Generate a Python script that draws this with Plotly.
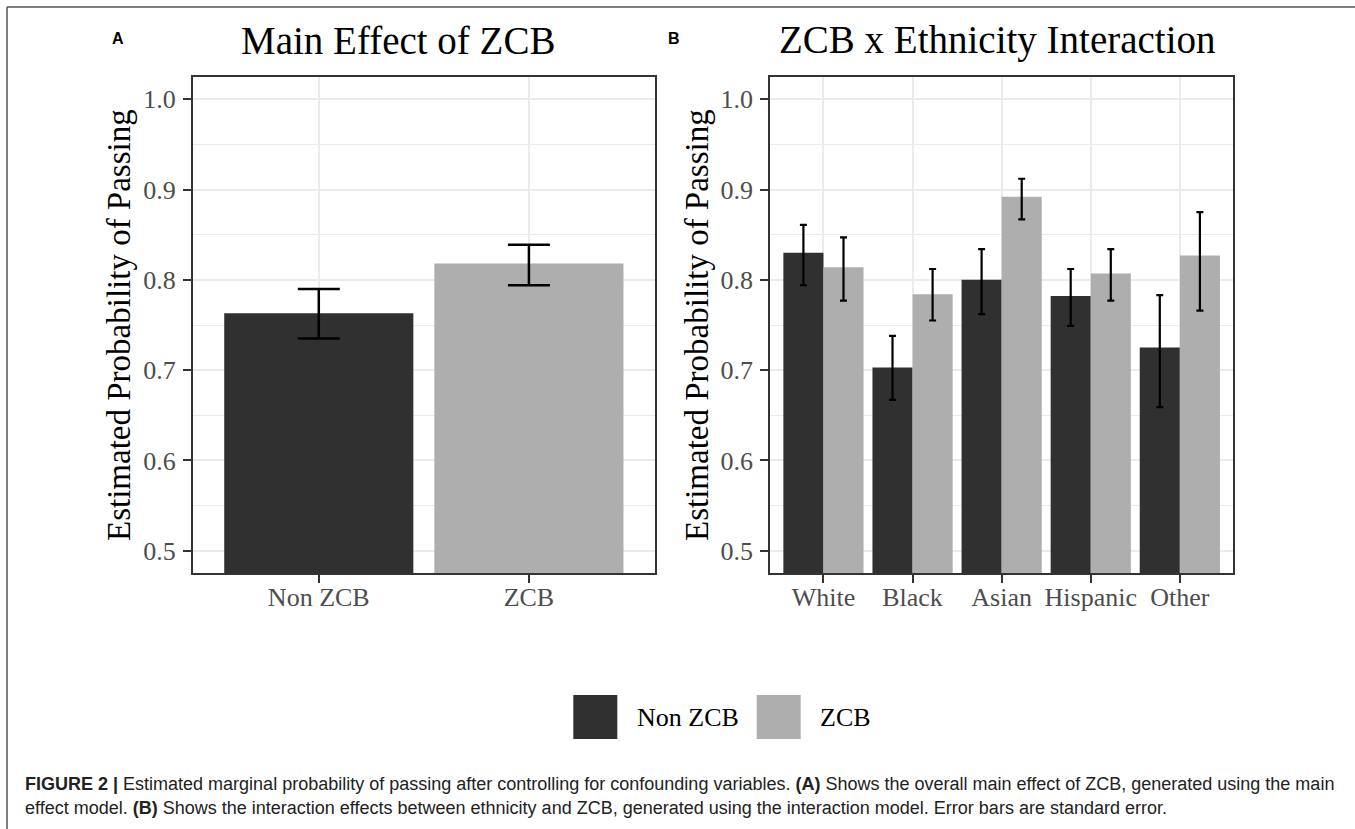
import plotly.graph_objects as go

# ---------------- data ----------------
main_categories = ["Non ZCB", "ZCB"]
main_values = [0.763, 0.818]
main_upper = [0.790, 0.839]
main_lower = [0.735, 0.794]

ethnicities = ["White", "Black", "Asian", "Hispanic", "Other"]
non_zcb_values = [0.830, 0.703, 0.800, 0.782, 0.725]
non_zcb_upper = [0.861, 0.738, 0.834, 0.812, 0.783]
non_zcb_lower = [0.794, 0.667, 0.762, 0.749, 0.659]
zcb_values = [0.814, 0.784, 0.892, 0.807, 0.827]
zcb_upper = [0.847, 0.812, 0.912, 0.834, 0.875]
zcb_lower = [0.777, 0.755, 0.867, 0.777, 0.766]

series_names = ["Non ZCB", "ZCB"]
y_ticks = [0.5, 0.6, 0.7, 0.8, 0.9, 1.0]

# ---------------- style ----------------
W, H = 1355, 829
DARK = "#303030"
LIGHT = "#aeaeae"
SERIF = "Liberation Serif, Times New Roman, serif"
SANS = "Liberation Sans, Arial, sans-serif"


def px(x):
    return x / W


def py(y):
    return 1 - y / H


def errs(vals, up, lo):
    return ([u - v for u, v in zip(up, vals)], [v - l for v, l in zip(vals, lo)])


fig = go.Figure()

ea_p, ea_m = errs(main_values, main_upper, main_lower)
fig.add_trace(go.Bar(
    x=main_categories, y=main_values, width=0.9,
    marker=dict(color=[DARK, LIGHT], line=dict(width=0)),
    error_y=dict(type="data", array=ea_p, arrayminus=ea_m, color="black",
                 thickness=2.5, width=21),
    xaxis="x", yaxis="y", showlegend=False,
))

en_p, en_m = errs(non_zcb_values, non_zcb_upper, non_zcb_lower)
fig.add_trace(go.Bar(
    x=ethnicities, y=non_zcb_values, name=series_names[0],
    marker=dict(color=DARK, line=dict(width=0)),
    error_y=dict(type="data", array=en_p, arrayminus=en_m, color="black",
                 thickness=2.2, width=3.5),
    xaxis="x2", yaxis="y2", showlegend=False,
))
ez_p, ez_m = errs(zcb_values, zcb_upper, zcb_lower)
fig.add_trace(go.Bar(
    x=ethnicities, y=zcb_values, name=series_names[1],
    marker=dict(color=LIGHT, line=dict(width=0)),
    error_y=dict(type="data", array=ez_p, arrayminus=ez_m, color="black",
                 thickness=2.2, width=3.5),
    xaxis="x2", yaxis="y2", showlegend=False,
))

top, bottom = 76.7, 573.3
ydom = [py(bottom), py(top)]

common_x = dict(
    type="category", showgrid=True, gridcolor="#EBEBEB", gridwidth=2,
    showline=True, linecolor="#333333", linewidth=1.5, mirror=True,
    ticks="outside", ticklen=8, tickwidth=2, tickcolor="#333333",
    tickfont=dict(family=SERIF, size=26, color="#4d4d4d"),
    ticklabelstandoff=-8, zeroline=False, fixedrange=True,
)
common_y = dict(
    range=[0.475, 1.025], tickvals=y_ticks, tickformat=".1f",
    showgrid=True, gridcolor="#EBEBEB", gridwidth=2,
    minor=dict(dtick=0.05, tick0=0.5, showgrid=True, gridcolor="#EBEBEB", gridwidth=1),
    showline=True, linecolor="#333333", linewidth=1.5, mirror=True,
    ticks="outside", ticklen=8, tickwidth=2, tickcolor="#333333",
    tickfont=dict(family=SERIF, size=26, color="#4d4d4d"),
    ticklabelstandoff=2, zeroline=False, fixedrange=True,
)

fig.update_layout(
    width=W, height=H, autosize=False,
    margin=dict(l=0, r=0, t=0, b=0),
    paper_bgcolor="white", plot_bgcolor="white",
    barmode="group", bargap=0.1, bargroupgap=0,
    xaxis=dict(domain=[px(192.7), px(655)], range=[-0.6, 1.6], anchor="y", **common_x),
    yaxis=dict(domain=ydom, anchor="x", **common_y),
    xaxis2=dict(domain=[px(770), px(1233.3)], range=[-0.6, 4.6], anchor="y2", **common_x),
    yaxis2=dict(domain=ydom, anchor="x2", **common_y),
)

ann = []
# panel titles
ann.append(dict(text="Main Effect of ZCB", x=px(397.5), y=py(40), xref="paper", yref="paper",
                xanchor="center", yanchor="middle", showarrow=False,
                font=dict(family=SERIF, size=39, color="black")))
ann.append(dict(text="ZCB x Ethnicity Interaction", x=px(997), y=py(40), xref="paper", yref="paper",
                xanchor="center", yanchor="middle", showarrow=False,
                font=dict(family=SERIF, size=39, color="black")))
# panel letters
for letter, xx in (("A", 117.5), ("B", 674)):
    ann.append(dict(text="<b>%s</b>" % letter, x=px(xx), y=py(38), xref="paper", yref="paper",
                    xanchor="center", yanchor="middle", showarrow=False,
                    font=dict(family=SANS, size=16, color="black")))
# y-axis titles
for xx in (119, 697):
    ann.append(dict(text="Estimated Probability of Passing", x=px(xx), y=py(325), xref="paper",
                    yref="paper", xanchor="center", yanchor="middle", textangle=-90,
                    showarrow=False, font=dict(family=SERIF, size=33, color="black")))
# legend labels
ann.append(dict(text=series_names[0], x=px(635), y=py(717), xref="paper", yref="paper",
                xanchor="left", yanchor="middle", showarrow=False,
                font=dict(family=SERIF, size=26, color="black")))
ann.append(dict(text=series_names[1], x=px(818), y=py(717), xref="paper", yref="paper",
                xanchor="left", yanchor="middle", showarrow=False,
                font=dict(family=SERIF, size=26, color="black")))
# caption
cap1 = ("<b>FIGURE 2 |</b> Estimated marginal probability of passing after controlling for confounding "
        "variables. <b>(A)</b> Shows the overall main effect of ZCB, generated using the main")
cap2 = ("effect model. <b>(B)</b> Shows the interaction effects between ethnicity and ZCB, generated "
        "using the interaction model. Error bars are standard error.")
ann.append(dict(text=cap1, x=px(23), y=py(784), xref="paper", yref="paper",
                xanchor="left", yanchor="middle", showarrow=False,
                font=dict(family=SANS, size=18, color="#222222")))
ann.append(dict(text=cap2, x=px(23), y=py(808), xref="paper", yref="paper",
                xanchor="left", yanchor="middle", showarrow=False,
                font=dict(family=SANS, size=18, color="#222222")))

shapes = []
# legend keys
shapes.append(dict(type="rect", xref="paper", yref="paper", x0=px(573.3), x1=px(617.3),
                   y0=py(739), y1=py(695), fillcolor=DARK, line=dict(width=0)))
shapes.append(dict(type="rect", xref="paper", yref="paper", x0=px(756.7), x1=px(800.7),
                   y0=py(739), y1=py(695), fillcolor=LIGHT, line=dict(width=0)))
# figure frame lines
shapes.append(dict(type="line", xref="paper", yref="paper", x0=px(7), x1=1, y0=py(7), y1=py(7),
                   line=dict(color="#555555", width=1.5)))
shapes.append(dict(type="line", xref="paper", yref="paper", x0=px(7), x1=px(7), y0=py(7), y1=0,
                   line=dict(color="#555555", width=1.5)))

fig.update_layout(annotations=ann, shapes=shapes)
fig.write_html(
    "out.html",
    config={"displayModeBar": False},
    post_script="document.body.style.margin='0';document.body.style.overflow='hidden';",
)
